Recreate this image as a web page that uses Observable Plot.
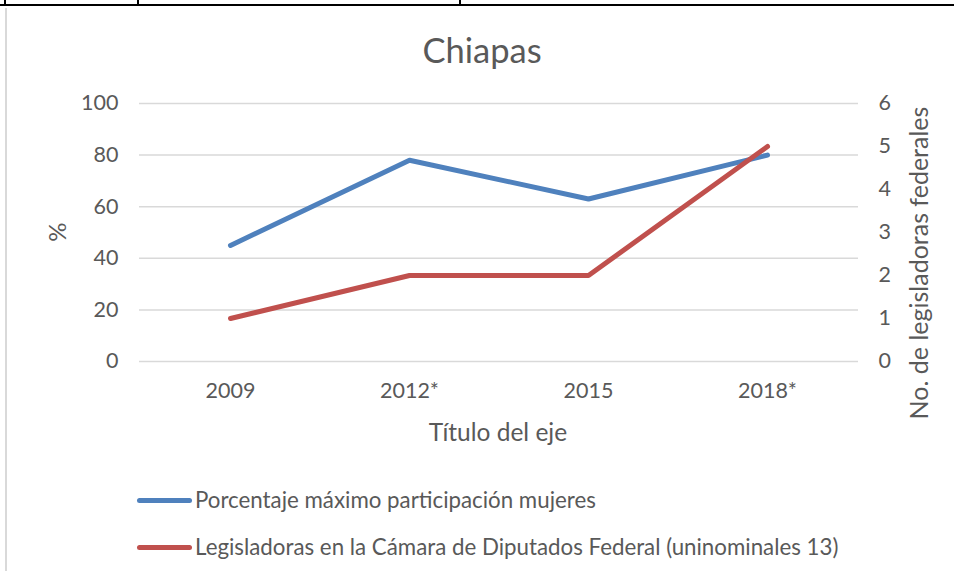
<!DOCTYPE html>
<html><head><meta charset="utf-8">
<script src="https://cdn.jsdelivr.net/npm/d3@7"></script>
<script src="https://cdn.jsdelivr.net/npm/@observablehq/plot@0.6"></script>
<style>
body{margin:0;background:#fff;font-family:Lato,"Open Sans",sans-serif;color:#595959}
#wrap{position:relative;width:954px;height:571px;overflow:hidden;background:#fff}
#chart{position:absolute;left:0;top:0}
.abs{position:absolute;white-space:nowrap;line-height:1}
.ln{position:absolute;background:#000}
</style></head><body>
<div id="wrap">
  <div class="ln" style="left:0;top:4px;width:954px;height:2px"></div>
  <div class="ln" style="left:4px;top:0;width:2px;height:5px"></div>
  <div class="ln" style="left:137px;top:0;width:2px;height:5px"></div>
  <div class="ln" style="left:459px;top:0;width:2px;height:5px"></div>
  <div class="ln" style="left:5px;top:8px;width:2px;height:563px;background:#D9D9D9"></div>
  <div id="chart"></div>
  <div class="abs" id="title" style="left:482px;top:50px;font-size:34.5px;transform:translate(-50%,-50%)">Chiapas</div>
  <div class="abs" id="ylab" style="left:57px;top:232px;font-size:24px;transform:translate(-50%,-50%) rotate(-90deg)">%</div>
  <div class="abs" id="y2lab" style="left:918px;top:263px;font-size:25px;transform:translate(-50%,-50%) rotate(-90deg)">No. de legisladoras federales</div>
  <div class="abs" id="xlab" style="left:498px;top:432px;font-size:24.5px;transform:translate(-50%,-50%)">Título del eje</div>
  <div id="legend"></div>
</div>
<script>
const years = ["2009", "2012*", "2015", "2018*"];
const porcentaje = [45, 78, 63, 80];
const legisladoras = [1, 2, 2, 5];
const leftTicks = [0, 20, 40, 60, 80, 100];
const rightTicks = [0, 1, 2, 3, 4, 5, 6];
const rightMax = 6;
const seriesNames = ["Porcentaje máximo participación mujeres", "Legisladoras en la Cámara de Diputados Federal (uninominales 13)"];
const seriesColors = ["#4F81BD", "#C0504D"];

const toLeft = v => v * 100 / rightMax;
const blueData = years.map((y, i) => ({x: y, v: porcentaje[i]}));
const redData = years.map((y, i) => ({x: y, v: legisladoras[i]}));

const chart = Plot.plot({
  width: 954, height: 571,
  marginLeft: 139, marginRight: 96, marginTop: 103, marginBottom: 210,
  style: {fontFamily: "Lato, 'Open Sans', sans-serif", fontSize: "21.5px", color: "#595959", background: "transparent"},
  x: {type: "point", domain: years, padding: 0.5},
  y: {domain: [0, 100]},
  marks: [
    Plot.gridY(leftTicks, {stroke: "#D9D9D9", strokeOpacity: 1, strokeWidth: 1.5}),
    Plot.axisY(leftTicks, {anchor: "left", tickSize: 0, tickPadding: 21, label: null, fill: "#595959"}),
    Plot.axisY(rightTicks.map(toLeft), {anchor: "right", tickSize: 0, tickPadding: 20, label: null, fill: "#595959",
      tickFormat: d => String(Math.round(d * rightMax / 100))}),
    Plot.axisX(years, {anchor: "bottom", tickSize: 0, tickPadding: 21, label: null, fill: "#595959"}),
    Plot.line(blueData, {x: "x", y: "v", stroke: seriesColors[0], strokeWidth: 5, strokeLinecap: "round", strokeLinejoin: "round"}),
    Plot.line(redData, {x: "x", y: d => toLeft(d.v), stroke: seriesColors[1], strokeWidth: 5, strokeLinecap: "round", strokeLinejoin: "round"})
  ]
});
document.getElementById("chart").appendChild(chart);

const legend = document.getElementById("legend");
const legendY = [500, 547];
seriesNames.forEach((name, i) => {
  const sw = document.createElement("div");
  sw.style.cssText = `position:absolute;left:137px;top:${legendY[i]-2.5}px;width:55px;height:5px;border-radius:3px;background:${seriesColors[i]}`;
  legend.appendChild(sw);
  const t = document.createElement("div");
  t.className = "abs";
  t.style.cssText = `left:195px;top:${legendY[i]}px;font-size:22.3px;transform:translateY(-50%)`;
  t.textContent = name;
  legend.appendChild(t);
});
</script>
</body></html>
